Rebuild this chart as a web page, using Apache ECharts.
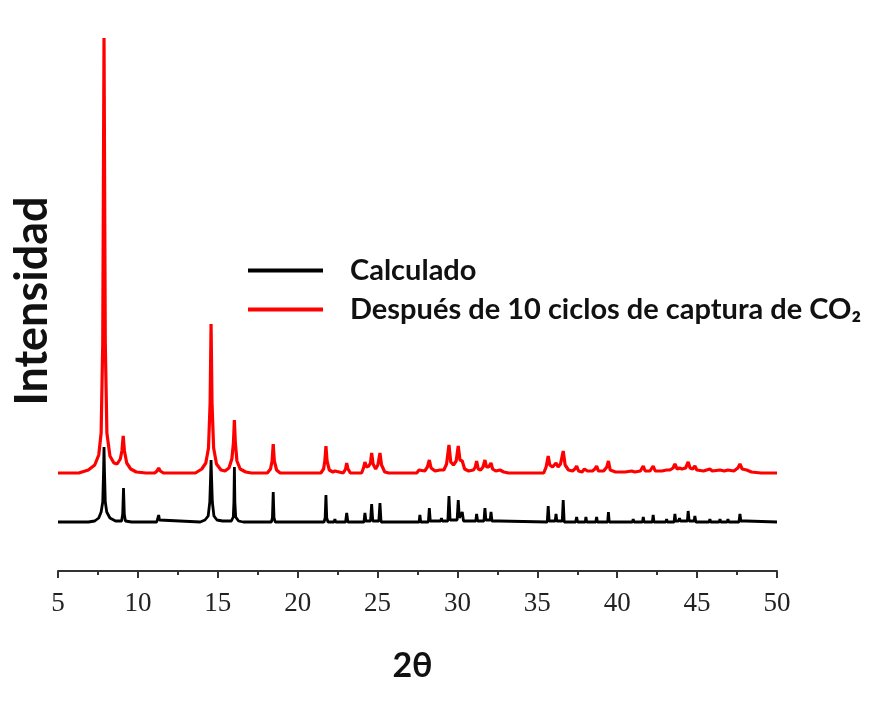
<!DOCTYPE html>
<html>
<head>
<meta charset="utf-8">
<script src="https://cdn.jsdelivr.net/npm/echarts@6/dist/echarts.min.js"></script>
<style>
html,body{margin:0;padding:0;background:#fff;}
#chart{width:886px;height:704px;}
</style>
</head>
<body>
<div id="chart"></div>
<script>
// Series names
var seriesNames = ['Calculado', 'Después de 10 ciclos de captura de CO₂'];
// x-axis ticks (2θ)
var xTicks = [5, 10, 15, 20, 25, 30, 35, 40, 45, 50];

// Calculado: 2θ and relative intensity (as visible in the picture)
var calcTheta = [5.0,6.9,7.3,7.55,7.7,7.8,7.85,7.88,7.91,7.96,8.05,8.25,8.6,8.98,9.05,9.1,9.15,9.22,9.6,
  11.18,11.25,11.3,11.35,11.42,13.9,14.2,14.4,14.5,14.55,14.58,14.61,14.66,14.76,14.95,15.3,15.85,15.97,16.01,16.04,16.07,16.12,16.3,16.6,
  18.35,18.42,18.47,18.52,18.6,21.65,21.72,21.77,21.82,21.9,22.28,22.33,22.38,23.0,23.07,23.14,
  24.15,24.21,24.27,24.56,24.63,24.7,25.08,25.15,25.22,27.6,27.65,27.7,28.18,28.24,28.3,
  28.95,29.0,29.05,29.4,29.47,29.54,29.98,30.05,30.12,30.3,30.38,31.15,31.2,31.26,31.66,31.72,31.78,
  32.05,32.1,32.16,32.6,32.66,32.72,35.62,35.68,35.74,36.12,36.17,36.22,36.56,36.62,36.68,
  37.4,37.46,37.52,38.0,38.04,38.09,38.66,38.71,38.76,39.4,39.45,39.5,40.95,41.0,41.05,
  41.58,41.63,41.68,42.2,42.25,42.3,43.04,43.09,43.14,43.56,43.61,43.66,43.85,43.9,43.95,
  44.39,44.44,44.5,44.81,44.86,44.92,45.75,45.8,45.85,46.38,46.43,46.48,46.88,46.93,46.98,
  47.62,47.68,47.74,48.05,48.1,48.15,50.0];
var calcInt = [0,0,1,4,10,20,50,75,50,20,10,4,1,1,8,34,8,1,0,
  0,2,7,2,0,0,2,6,20,45,62,45,20,6,2,1,1,5,20,55,20,5,1,0,
  0,4,30,4,0,0,4,27,4,0,0,3,0,0,9,0,
  0,9,1,1,18,1,1,19,0,0,7,0,0,14,1,
  1,4,1,1,26,2,2,22,4,10,1,1,8,1,1,14,2,
  2,10,1,1,3,0,0,16,1,1,8,1,1,22,0,
  0,5,0,0,5,0,0,5,0,0,10,0,0,3,0,
  0,5,0,0,7,0,0,3,0,0,8,1,1,4,1,
  1,11,1,1,6,0,0,3,0,0,3,0,0,3,0,
  0,8,1,1,3,0,0];

// Después de 10 ciclos: 2θ and relative intensity
var expTheta = [5.0,6.3,6.9,7.3,7.55,7.7,7.8,7.88,7.96,8.06,8.25,8.5,8.7,8.9,9.0,9.08,9.16,9.3,9.55,9.9,10.5,
  11.05,11.2,11.3,11.4,11.6,13.6,14.0,14.25,14.42,14.52,14.58,14.64,14.74,14.92,15.2,15.45,15.7,15.88,15.98,16.04,16.1,16.2,16.4,16.75,17.1,
  18.1,18.3,18.4,18.47,18.54,18.68,18.9,21.45,21.62,21.7,21.77,21.84,21.98,22.2,22.33,22.45,22.85,23.0,23.07,23.15,23.3,
  24.0,24.12,24.21,24.3,24.45,24.56,24.63,24.72,24.88,25.02,25.15,25.25,25.45,25.7,27.45,27.6,27.65,27.72,27.95,28.12,28.24,28.35,28.6,
  28.9,29.0,29.15,29.32,29.47,29.58,29.75,29.92,30.05,30.16,30.3,30.45,30.7,31.0,31.12,31.2,31.3,31.45,31.6,31.72,31.82,31.95,32.1,32.2,32.4,32.66,32.9,33.2,
  35.4,35.55,35.68,35.78,35.95,36.17,36.3,36.45,36.62,36.74,36.95,37.2,37.35,37.46,37.58,37.8,37.95,38.04,38.14,38.45,38.6,38.71,38.82,39.15,39.35,39.45,39.56,39.9,
  40.5,40.9,41.0,41.1,41.45,41.63,41.75,42.05,42.25,42.38,42.8,43.09,43.3,43.5,43.61,43.75,43.9,44.05,44.28,44.44,44.56,44.72,44.86,44.98,45.4,45.8,45.95,46.43,46.7,46.93,47.3,47.55,47.68,47.82,48.1,48.4,49.0,50.0];
var expInt = [0,0,3,8,18,40,130,435,130,40,17,10,9,14,22,37,22,10,4,1,0,
  0,2,5,2,0,0,4,10,25,70,149,70,25,9,3,2,5,14,30,53,30,12,4,1,0,
  0,4,12,29,12,3,0,0,4,12,27,12,3,1,2,0,0,4,10,4,0,
  0,5,11,6,7,10,20,9,4,8,20,8,1,0,0,3,5,2,2,6,13,5,2,
  3,4,3,9,28,11,8,12,27,13,12,4,2,3,6,12,4,3,6,13,6,6,10,4,2,3,1,0,
  0,6,17,8,6,10,6,9,22,8,3,2,4,7,2,1,4,6,2,2,4,7,2,2,6,12,3,1,
  1,2,3,1,2,7,2,2,7,2,2,3,3,5,9,4,5,4,5,11,5,4,7,3,2,4,2,3,2,3,2,5,9,4,3,1,0,0];

// vertical stacking offsets of the two patterns (display offsets)
var calcOffset = 49;
var expOffset = 98;

function pairs(xs, ys, off) {
  var out = [];
  for (var i = 0; i < xs.length; i++) out.push([xs[i], ys[i] + off]);
  return out;
}

var chart = echarts.init(document.getElementById('chart'), null, {renderer: 'canvas'});
chart.setOption({
  animation: false,
  backgroundColor: '#ffffff',
  grid: {left: 58, right: 109, top: 31, bottom: 133, containLabel: false},
  legend: {
    orient: 'vertical',
    left: 248,
    top: 256,
    padding: 0,
    itemGap: 10,
    itemWidth: 75,
    itemHeight: 4,
    icon: 'rect',
    data: seriesNames,
    textStyle: {fontFamily: 'Lato', fontWeight: 'bold', fontSize: 29, color: '#111', padding: [0, 0, 0, 22]}
  },
  xAxis: {
    type: 'value',
    min: 5, max: 50, interval: 5,
    name: '2θ',
    nameLocation: 'middle',
    nameGap: 78,
    nameTextStyle: {fontFamily: 'Lato', fontWeight: 'bold', fontSize: 34, color: '#111', padding: [0, 10, 0, 0]},
    axisLine: {show: true, onZero: false, lineStyle: {color: '#333', width: 2}},
    axisTick: {show: true, length: 7, lineStyle: {color: '#333', width: 2}},
    minorTick: {show: true, splitNumber: 2, length: 4, lineStyle: {color: '#333', width: 2}},
    splitLine: {show: false},
    axisLabel: {margin: 19, fontFamily: 'Liberation Serif', fontSize: 27, color: '#222',
      formatter: function (v) { return xTicks.indexOf(v) >= 0 ? String(v) : ''; }}
  },
  yAxis: {
    type: 'value',
    min: 0, max: 540,
    name: 'Intensidad',
    nameLocation: 'middle',
    nameGap: 3,
    nameTextStyle: {fontFamily: 'Lato', fontWeight: 'bold', fontSize: 45, color: '#111'},
    axisLine: {show: false},
    axisTick: {show: false},
    axisLabel: {show: false},
    splitLine: {show: false}
  },
  series: [
    {name: seriesNames[0], type: 'line', data: pairs(calcTheta, calcInt, calcOffset), showSymbol: false,
      color: '#000000', lineStyle: {color: '#000000', width: 2.8}},
    {name: seriesNames[1], type: 'line', data: pairs(expTheta, expInt, expOffset), showSymbol: false,
      color: '#ff0000', lineStyle: {color: '#ff0000', width: 3.2}}
  ]
});
</script>
</body>
</html>
